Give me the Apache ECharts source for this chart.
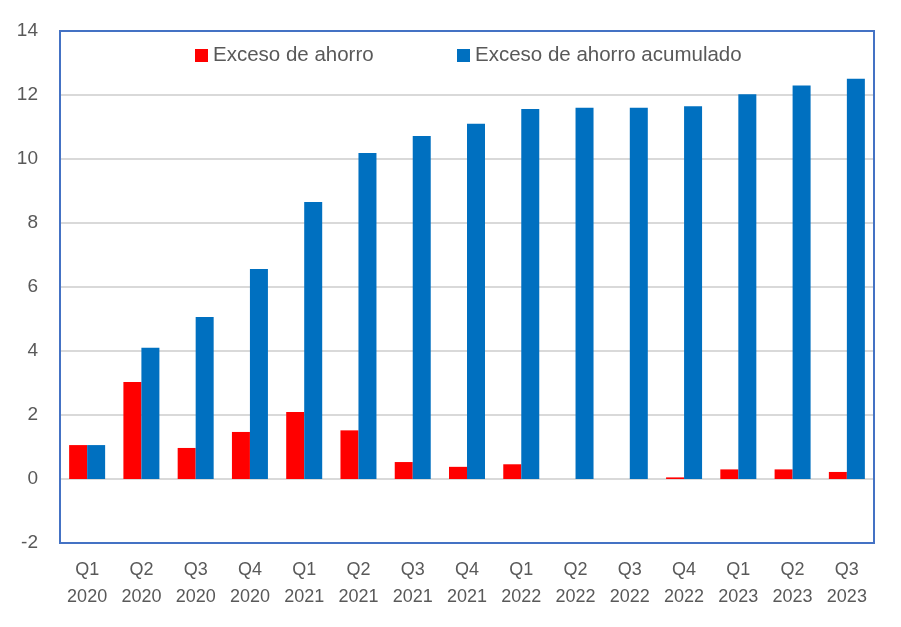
<!DOCTYPE html>
<html><head><meta charset="utf-8">
<script src="https://cdn.jsdelivr.net/npm/echarts@6/dist/echarts.min.js"></script>
<style>html,body{margin:0;padding:0;background:#fff}#c{width:901px;height:627px}</style>
</head><body><div id="c"></div>
<script>
const quarters = ['Q1','Q2','Q3','Q4','Q1','Q2','Q3','Q4','Q1','Q2','Q3','Q4','Q1','Q2','Q3'];
const years = ['2020','2020','2020','2020','2021','2021','2021','2021','2022','2022','2022','2022','2023','2023','2023'];
const excesoAhorro = [1.06, 3.03, 0.97, 1.47, 2.09, 1.52, 0.53, 0.38, 0.46, 0, 0, 0.05, 0.3, 0.3, 0.22];
const excesoAcumulado = [1.06, 4.1, 5.06, 6.56, 8.66, 10.19, 10.72, 11.1, 11.56, 11.6, 11.6, 11.65, 12.02, 12.3, 12.51];
const seriesNames = ['Exceso de ahorro', 'Exceso de ahorro acumulado'];
const categories = quarters.map((q,i)=>q+'\n'+years[i]);

const FONT = 'Liberation Sans';
const chart = echarts.init(document.getElementById('c'), null, {renderer:'canvas'});
chart.setOption({
  animation:false,
  backgroundColor:'#fff',
  textStyle:{fontFamily:FONT},
  legend:[
    {data:[seriesNames[0]], left:190, top:40, itemWidth:13, itemHeight:13, icon:'rect',
     textStyle:{fontSize:20.5, color:'#595959', fontFamily:FONT}},
    {data:[seriesNames[1]], left:452, top:40, itemWidth:13, itemHeight:13, icon:'rect',
     textStyle:{fontSize:20.5, color:'#595959', fontFamily:FONT}}
  ],
  grid:{left:60, top:31, width:814, height:512, show:true, borderColor:'#4472C4', borderWidth:2, backgroundColor:'transparent', z:3},
  xAxis:{type:'category', data:categories,
    axisLine:{show:false}, axisTick:{show:false},
    axisLabel:{fontSize:18, color:'#595959', lineHeight:27, margin:14, fontFamily:FONT, interval:0}},
  yAxis:{type:'value', min:-2, max:14, interval:2,
    axisLine:{show:false}, axisTick:{show:false},
    axisLabel:{fontSize:19, color:'#595959', margin:22, fontFamily:FONT},
    splitLine:{showMinLine:false, showMaxLine:false, lineStyle:{color:'#d9d9d9', width:2}}},
  series:[
    {name:seriesNames[0], type:'bar', data:excesoAhorro, barWidth:18, barGap:'0%',
     itemStyle:{color:'#FF0000'}},
    {name:seriesNames[1], type:'bar', data:excesoAcumulado, barWidth:18, barGap:'0%',
     itemStyle:{color:'#0070C0'}}
  ]
});
</script></body></html>
